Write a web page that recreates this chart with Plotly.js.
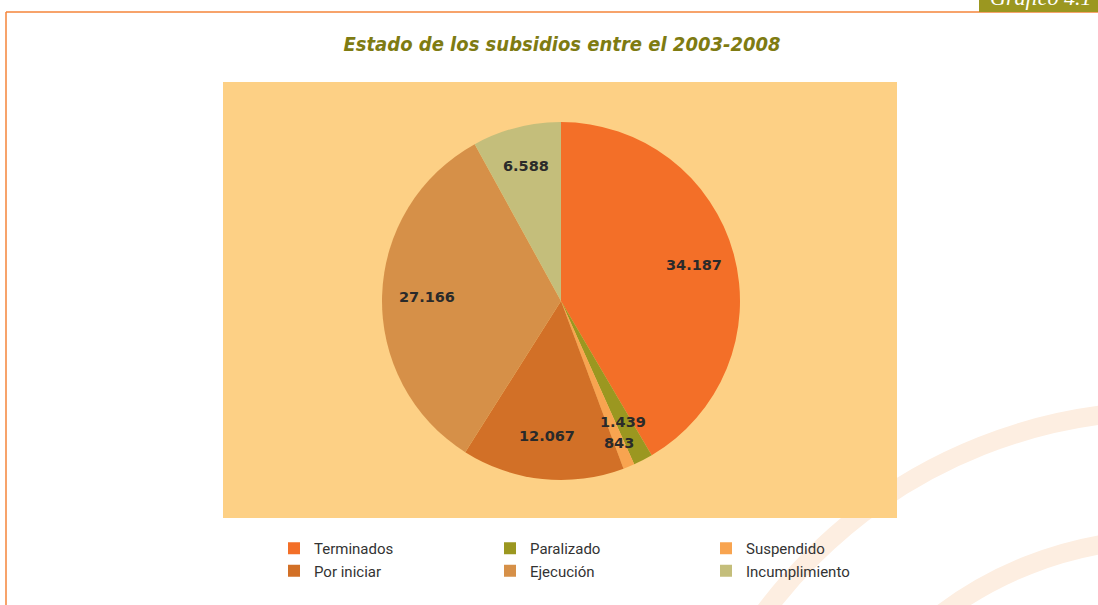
<!DOCTYPE html>
<html>
<head>
<meta charset="utf-8">
<script src="https://cdn.plot.ly/plotly-3.0.1.min.js"></script>
<style>html,body{margin:0;padding:0;background:#fff;}#chart{width:1098px;height:605px;}</style>
</head>
<body>
<div id="chart"></div>
<script>
const categories = ['Terminados', 'Paralizado', 'Suspendido', 'Por iniciar', 'Ejecución', 'Incumplimiento'];
const values = [34187, 1439, 843, 12067, 27166, 6588];
const sliceColors = ['#F36F28', '#9B9720', '#F8A450', '#D27027', '#D69048', '#C4BE7B'];
const chartTitle = 'Estado de los subsidios entre el 2003-2008';

const W = 1098, H = 605;
// plot-area margins (chosen so the legend wraps into 3 columns)
const ML = 250, MR = 148;
const PW = W - ML - MR;
const px = x => (x - ML) / PW;      // figure pixel -> paper x
const py = y => 1 - y / H;          // figure pixel -> paper y
const cx = x => x / W;              // figure pixel -> container x

// pie geometry (pixels)
const pieCx = 561, pieCy = 301, pieR = 179;
// radial position of each value label, as fraction of radius (label placement style)
const labelRadius = [0.77, 0.76, 0.86, 0.76, 0.75, 0.78];

// decorative background arcs (pixels)
const arcCx = 1165, arcCy = 910, arcRadii = [499, 371];

const trace = {
  type: 'pie',
  labels: categories,
  values: values,
  sort: false,
  direction: 'clockwise',
  rotation: 0,
  marker: {colors: sliceColors, line: {width: 0}},
  textinfo: 'none',
  hoverinfo: 'label+value',
  domain: {x: [px(pieCx - pieR), px(pieCx + pieR)], y: [py(pieCy + pieR), py(pieCy - pieR)]}
};

// value labels placed at each slice's mid-angle, computed from the data
const total = values.reduce((a, b) => a + b, 0);
const fmt = v => v.toString().replace(/\B(?=(\d{3})+(?!\d))/g, '.');
let cum = 0;
const labelAnnotations = values.map((v, i) => {
  const mid = (cum + v / 2) / total;
  cum += v;
  const th = mid * 2 * Math.PI;
  const r = pieR * labelRadius[i];
  return {
    xref: 'paper', yref: 'paper',
    x: px(pieCx + r * Math.sin(th)), y: py(pieCy - r * Math.cos(th)),
    xanchor: 'center', yanchor: 'middle', showarrow: false,
    text: fmt(v),
    font: {family: 'DejaVu Sans', size: 14.5, color: '#2a2a2a', weight: 'bold'}
  };
});

const arcShapes = arcRadii.map(r => ({
  type: 'circle', xref: 'paper', yref: 'paper', layer: 'below',
  x0: px(arcCx - r), x1: px(arcCx + r), y0: py(arcCy + r), y1: py(arcCy - r),
  line: {color: '#FDEEE1', width: 19}, fillcolor: 'rgba(0,0,0,0)'
}));

const layout = {
  width: W, height: H,
  margin: {l: ML, r: MR, t: 0, b: 0},
  paper_bgcolor: '#ffffff',
  separators: ',.',
  title: {
    text: '<b><i>' + chartTitle + '</i></b>',
    font: {family: 'DejaVu Sans Condensed', size: 20, color: '#7E7B12'},
    x: cx(562), xanchor: 'center', y: py(44), yanchor: 'middle'
  },
  showlegend: true,
  legend: {
    orientation: 'h',
    x: px(274), xanchor: 'left',
    y: py(532), yanchor: 'top',
    entrywidth: 171, entrywidthmode: 'pixels',
    font: {family: 'Roboto', size: 15, color: '#333333'},
    bgcolor: 'rgba(0,0,0,0)',
    traceorder: 'normal'
  },
  shapes: arcShapes.concat([
    {type: 'rect', xref: 'paper', yref: 'paper', layer: 'below',
     x0: px(223), x1: px(897), y0: py(518), y1: py(82),
     line: {width: 0}, fillcolor: '#FDD085'},
    {type: 'line', xref: 'paper', yref: 'paper', layer: 'below',
     x0: px(6), x1: px(1100), y0: py(12), y1: py(12),
     line: {color: '#F5853A', width: 1.5}},
    {type: 'line', xref: 'paper', yref: 'paper', layer: 'below',
     x0: px(6), x1: px(6), y0: py(12), y1: py(610),
     line: {color: '#F5853A', width: 1.5}},
    {type: 'rect', xref: 'paper', yref: 'paper', layer: 'above',
     x0: px(979), x1: px(1100), y0: py(12), y1: py(-2),
     line: {width: 0}, fillcolor: '#9B9720'}
  ]),
  annotations: labelAnnotations.concat([
    {xref: 'paper', yref: 'paper', x: px(988), xanchor: 'left', y: py(12), yanchor: 'bottom',
     text: '<i>Gráfico 4.1</i>', showarrow: false,
     font: {family: 'Liberation Serif', size: 22, color: '#ffffff'}}
  ])
};

Plotly.newPlot('chart', [trace], layout, {displayModeBar: false, staticPlot: true});
</script>
</body>
</html>
